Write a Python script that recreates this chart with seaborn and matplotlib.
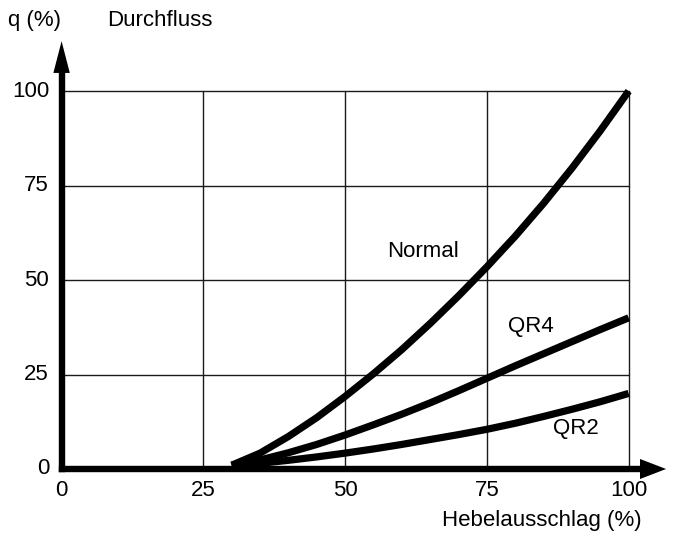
import matplotlib
matplotlib.use("Agg")
import matplotlib.pyplot as plt
import numpy as np
import pandas as pd
import seaborn as sns

# Lever travel (%) and flow (%) for the three characteristics
hub = [30, 35, 40, 45, 50, 55, 60, 65, 70, 75, 80, 85, 90, 95, 100]
normal = [1, 4.2, 8.6, 13.6, 19.2, 25.2, 31.6, 38.5, 45.8, 53.5, 61.6, 70.3, 79.6, 89.5, 100]
qr4 = [1, 2.4, 4.3, 6.5, 9, 11.7, 14.5, 17.5, 20.7, 24.0, 27.3, 30.5, 33.7, 36.9, 40]
qr2 = [1, 1.5, 2.3, 3.2, 4.2, 5.3, 6.5, 7.8, 9.1, 10.5, 12.1, 13.9, 15.8, 17.8, 20]
series_names = ["Normal", "QR4", "QR2"]

tick_values = [0, 25, 50, 75, 100]
tick_labels = ["0", "25", "50", "75", "100"]

df = pd.concat([
    pd.DataFrame({"Hebelausschlag": hub, "q": vals, "Kennlinie": name})
    for name, vals in zip(series_names, [normal, qr4, qr2])
])

sns.set_style("white")
plt.rcParams["font.family"] = ["Liberation Sans", "DejaVu Sans"]
plt.rcParams["text.color"] = "black"

fig = plt.figure(figsize=(6.78, 5.34), dpi=100)
ax = fig.add_axes([0, 0, 1, 1])
ax.set_xlim(-10.86, 108.7)
ax.set_ylim(-17.2, 124.1)
ax.axis("off")

# grid box
for v in tick_values[1:]:
    ax.plot([v, v], [0, 100], color="#1a1a1a", lw=1.0, zorder=1)
    ax.plot([0, 100], [v, v], color="#1a1a1a", lw=1.0, zorder=1)

# curves
sns.lineplot(data=df, x="Hebelausschlag", y="q", hue="Kennlinie",
             palette=["black"] * 3, linewidth=5.2, legend=False, ax=ax,
             zorder=3)
for ln in ax.lines[-3:]:
    ln.set_solid_capstyle("butt")
    ln.set_solid_joinstyle("round")

# axes with arrow heads
ax.plot([0, 103], [0, 0], color="black", lw=4.6, solid_capstyle="projecting", zorder=4)
ax.plot([0, 0], [0, 106], color="black", lw=4.6, solid_capstyle="projecting", zorder=4)
ax.fill([102.0, 106.6, 102.0], [2.65, 0, -2.65], color="black", lw=0, zorder=5)
ax.fill([-1.45, 0, 1.45], [104.8, 113.2, 104.8], color="black", lw=0, zorder=5)

fs = 16
for v, lab in zip(tick_values, tick_labels):
    ax.text(v, -5.6, lab, ha="center", va="center", fontsize=fs, color="black")
    ax.text(-2.2, v, lab, ha="right", va="center", fontsize=fs, color="black")

ax.text(-9.45, 118.8, "q (%)", ha="left", va="center", fontsize=fs, color="black")
ax.text(8.0, 118.8, "Durchfluss", ha="left", va="center", fontsize=fs, color="black")
ax.text(102.2, -13.5, "Hebelausschlag (%)", ha="right", va="center", fontsize=fs, color="black")

ax.text(63.8, 57.5, "Normal", ha="center", va="center", fontsize=fs, color="black")
ax.text(82.8, 37.6, "QR4", ha="center", va="center", fontsize=fs, color="black")
ax.text(90.7, 10.8, "QR2", ha="center", va="center", fontsize=fs, color="black")

fig.savefig("out.png", dpi=100)
